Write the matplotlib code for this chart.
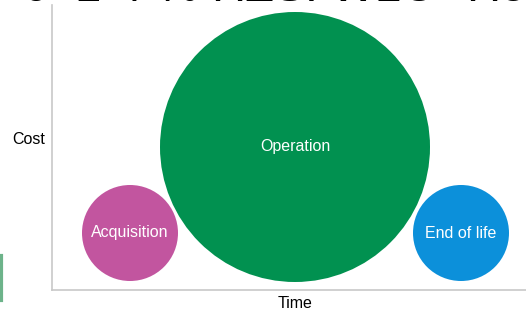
import numpy as np
import matplotlib.pyplot as plt
from matplotlib.patches import Circle

# Life-cycle cost bubbles (pixel-space layout of the slide)
phases = ["Acquisition", "Operation", "End of life"]
time_pos = [130, 295, 461]
cost_pos = [233, 147, 233]
radius = [48, 135, 48]
colors = ["#C2559F", "#019150", "#0C90DA"]

# slide title, only its lower edge is inside the crop
title_parts = ["0", "1", "4", "%", "HZSP", "WLC", "Ho"]
title_x = [22, 74, 116, 156, 211, 331, 466]

fig = plt.figure(figsize=(5.26, 3.12), dpi=100)
ax = fig.add_axes([0, 0, 1, 1])
ax.set_xlim(0, 526)
ax.set_ylim(312, 0)
ax.set_aspect("equal")
ax.axis("off")

# axes lines
ax.plot([52, 52], [5, 290], color="#c8c8c8", lw=1.2)
ax.plot([52, 526], [290, 290], color="#c8c8c8", lw=1.2)

for name, x, y, r, c in zip(phases, time_pos, cost_pos, radius, colors):
    ax.add_patch(Circle((x, y), r, color=c, ec="none"))
    ax.text(x, y, name, color="white", ha="center", va="center", fontsize=11.5,
            family="Liberation Sans")

ax.text(29, 139, "Cost", ha="center", va="center", fontsize=11.5, family="Liberation Sans")
ax.text(295, 304, "Time", ha="center", va="center", fontsize=11.5, family="Liberation Sans")

for part, x in zip(title_parts, title_x):
    ax.text(x, 1, part, ha="left", va="baseline", fontsize=34,
            family="Liberation Sans", clip_on=False)

# green edge of a neighbouring shape
ax.plot([1, 1], [256, 300], color="#6db38a", lw=3)

fig.savefig("out.png", dpi=100)
